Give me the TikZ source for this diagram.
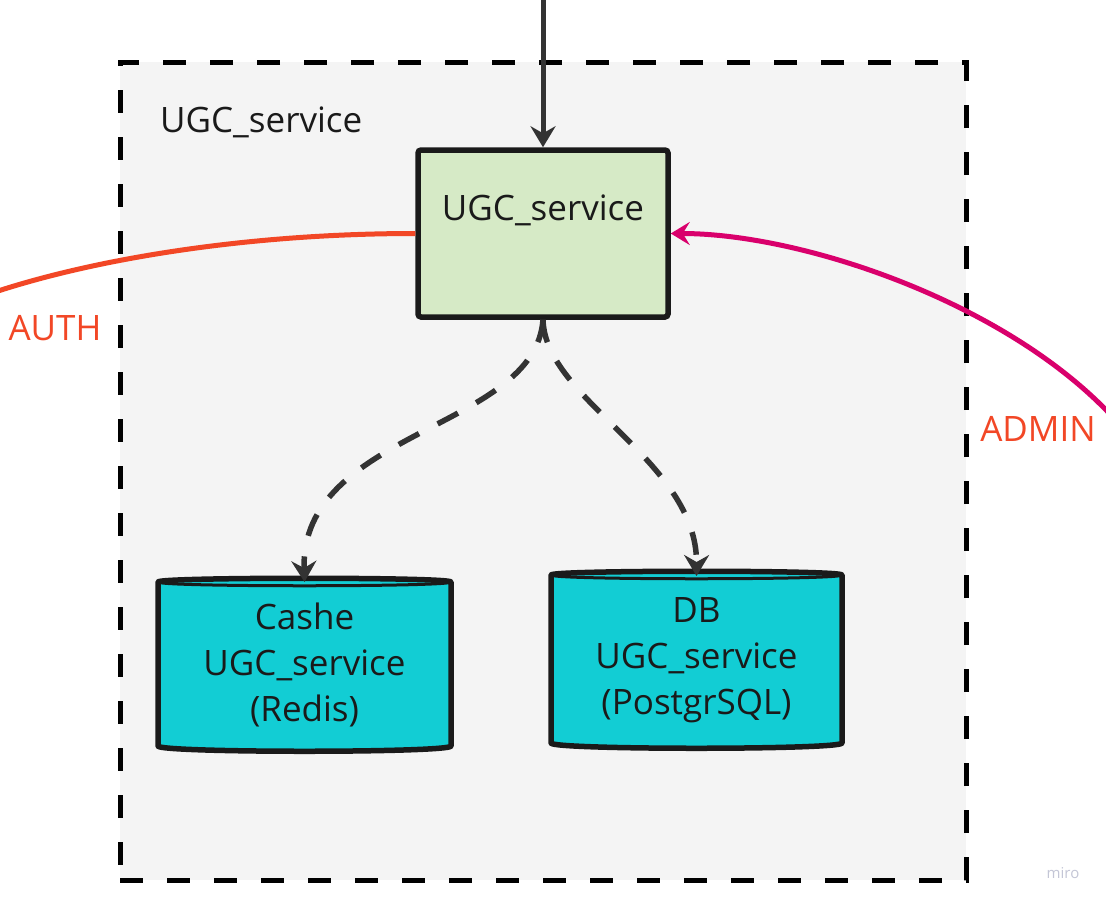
\documentclass[tikz,border=0pt]{standalone}
\usepackage{fontspec}
\setmainfont{Open Sans}
\usetikzlibrary{arrows.meta}
\definecolor{bgbox}{HTML}{F4F4F4}
\definecolor{ugcgreen}{HTML}{D6EAC6}
\definecolor{cyl}{HTML}{12CDD4}
\definecolor{edge}{HTML}{1A1A1A}
\definecolor{arrowgray}{HTML}{333333}
\definecolor{authorange}{HTML}{F24726}
\definecolor{adminmag}{HTML}{D9006C}
\definecolor{txt}{HTML}{1A1A1A}
\definecolor{mirogray}{HTML}{C4C6D6}
\tikzset{
  bigfont/.style={font=\fontsize{35}{46}\selectfont},
  frame/.style={draw=black, fill=bgbox, line width=5pt, dash pattern=on 23pt off 24pt, inner sep=0pt},
  ugcbox/.style={draw=edge, fill=ugcgreen, line width=5.5pt, rounded corners=3pt, inner sep=0pt},
  cylshape/.style={draw=edge, fill=cyl, line width=5.5pt, line join=round},
  cylrim/.style={draw=edge, line width=3pt},
  cyltext/.style={bigfont, text=txt, align=center, inner sep=0pt, outer sep=0pt},
  solidarr/.style={draw=arrowgray, line width=5pt, -{Stealth[length=21pt, width=25pt, inset=7pt]}},
  dasharr/.style={draw=arrowgray, line width=5.5pt, dash pattern=on 23pt off 21pt, -{Stealth[length=21pt, width=25pt, inset=7pt]}},
  authline/.style={draw=authorange, line width=5pt},
  adminline/.style={draw=adminmag, line width=5pt, -{Stealth[length=19pt, width=23pt, inset=7pt]}},
  lbl/.style={bigfont, text=authorange, inner sep=0pt}
}
\begin{document}
\begin{tikzpicture}[x=1pt, y=-1pt]
\useasboundingbox (0,0) rectangle (1106,903);
\fill[white] (0,0) rectangle (1106,903);

% outer boundary
\node[frame, minimum width=846pt, minimum height=818pt] (boundary) at (543,471) {};
\node[bigfont, text=txt, anchor=base west, inner sep=0pt] (title) at (160,132) {UGC\_service};

% UGC service box
\node[ugcbox, minimum width=250pt, minimum height=167pt] (ugc) at (543,233.5) {};
\node[bigfont, text=txt, anchor=base, inner sep=0pt] (ugclabel) at (543,220) {UGC\_service};

% cylinders
\filldraw[cylshape] (158,582) -- (158,746) .. controls (158,753) and (451,753) .. (451,746) -- (451,582) .. controls (451,577) and (158,577) .. cycle;
\draw[cylrim] (158,582) .. controls (158,587) and (451,587) .. (451,582);
\node[cyltext, minimum width=293pt, minimum height=166pt] (cashe) at (304.5,665) {Cashe\\UGC\_service\\(Redis)};

\filldraw[cylshape] (551,575) -- (551,743) .. controls (551,750) and (842,750) .. (842,743) -- (842,575) .. controls (842,570) and (551,570) .. cycle;
\draw[cylrim] (551,575) .. controls (551,580) and (842,580) .. (842,575);
\node[cyltext, minimum width=291pt, minimum height=168pt] (db) at (696.5,660) {DB\\UGC\_service\\(PostgrSQL)};

% connectors
\coordinate (topin) at (543,-5);
\draw[solidarr] (topin) -- (ugc.north);

\coordinate (authout) at (-2,291);
\draw[authline] (ugc.west) .. controls (250,233.5) and (100,258) .. (authout);
\node[lbl] (auth) at (55,328) {AUTH};

\coordinate (adminin) at (1108,412);
\draw[adminline] (adminin) .. controls (1000,300) and (800,233.5) .. (ugc.east);
\node[lbl] (admin) at (1038,429) {ADMIN};

\draw[dasharr] (ugc.south) .. controls (535,430) and (300,430) .. (cashe.north);
\draw[dasharr] (ugc.south) .. controls (545,400) and (697,460) .. (db.north);

\node[text=mirogray, font=\fontsize{15}{17}\selectfont, inner sep=0pt] (miro) at (1063,873) {miro};
\end{tikzpicture}
\end{document}
